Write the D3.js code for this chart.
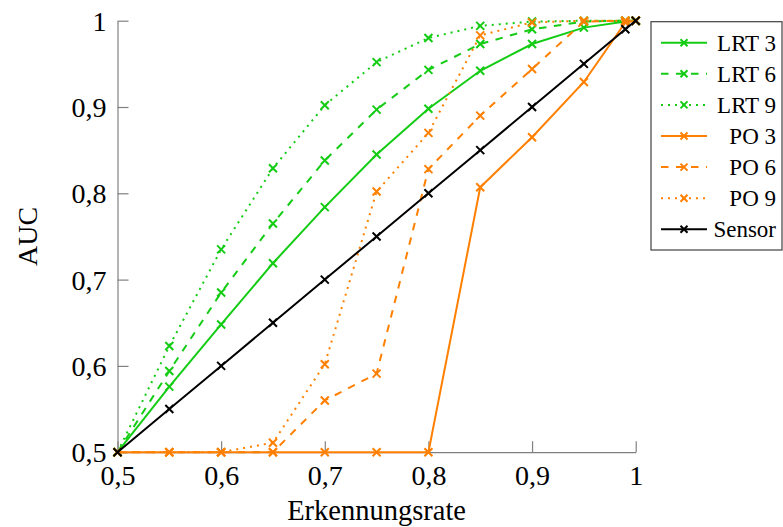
<!DOCTYPE html>
<html>
<head>
<meta charset="utf-8">
<script src="https://cdn.jsdelivr.net/npm/d3@7"></script>
<style>
  body { margin: 0; background: #fff; }
  text { font-family: "Liberation Serif", "Times New Roman", serif; fill: #000; }
</style>
</head>
<body>
<svg id="chart" width="783" height="527"></svg>
<script>
// x positions (Erkennungsrate)
var rates = [0.5, 0.55, 0.6, 0.65, 0.7, 0.75, 0.8, 0.85, 0.9, 0.95, 0.99, 1]

// AUC values
var lrt3   = [0.5, 0.576, 0.648, 0.719, 0.784, 0.845, 0.898, 0.942, 0.973, 0.992, 0.999, 1]
var lrt6   = [0.5, 0.594, 0.685, 0.765, 0.838, 0.897, 0.943, 0.973, 0.990, 0.999, 1, 1]
var lrt9   = [0.5, 0.623, 0.735, 0.829, 0.902, 0.952, 0.980, 0.994, 0.999, 1, 1, 1]
var po3    = [0.5, 0.5, 0.5, 0.5, 0.5, 0.5, 0.5, 0.807, 0.865, 0.929, 0.998, 1]
var po6    = [0.5, 0.5, 0.5, 0.5, 0.560, 0.591, 0.828, 0.890, 0.944, 0.999, 1, 1]
var po9    = [0.5, 0.5, 0.5, 0.511, 0.602, 0.802, 0.870, 0.983, 0.998, 1, 1, 1]
var sensor = [0.5, 0.55, 0.6, 0.65, 0.7, 0.75, 0.8, 0.85, 0.9, 0.95, 0.99, 1]

var seriesNames = ["LRT 3", "LRT 6", "LRT 9", "PO 3", "PO 6", "PO 9", "Sensor"]
var xTicks = [0.5, 0.6, 0.7, 0.8, 0.9, 1]
var yTicks = [0.5, 0.6, 0.7, 0.8, 0.9, 1]

var green = "#14cc14", orange = "#ff8000"
var series = [
    { name: seriesNames[0], values: lrt3,   color: green,  dash: null },
    { name: seriesNames[1], values: lrt6,   color: green,  dash: "7.5,7.5" },
    { name: seriesNames[2], values: lrt9,   color: green,  dash: "2,5" },
    { name: seriesNames[3], values: po3,    color: orange, dash: null },
    { name: seriesNames[4], values: po6,    color: orange, dash: "7.5,7.5" },
    { name: seriesNames[5], values: po9,    color: orange, dash: "2,5" },
    { name: seriesNames[6], values: sensor, color: "#000", dash: null }
]

var margin = { left: 117.5, top: 20.7, right: 147.3, bottom: 74.8 }
var svg = d3.select("#chart")
var width = 783 - margin.left - margin.right
var height = 527 - margin.top - margin.bottom

var x = d3.scaleLinear().domain([0.5, 1]).range([0, width])
var y = d3.scaleLinear().domain([0.5, 1]).range([height, 0])

var fmt = function(d) { return d === 1 ? "1" : d3.format(".1f")(d).replace(".", ",") }

var g = svg.append("g")
    .attr("transform", "translate(" + margin.left + "," + margin.top + ")")

// axes: ticks point inward, gray
var xAxis = g.append("g")
    .attr("transform", "translate(0," + height + ")")
    .call(d3.axisBottom(x).tickValues(xTicks).tickSize(-11).tickSizeOuter(0).tickFormat(fmt))
var yAxis = g.append("g")
    .call(d3.axisLeft(y).tickValues(yTicks).tickSize(-11).tickSizeOuter(0).tickFormat(fmt))

;[xAxis, yAxis].forEach(function(a) {
    a.select(".domain").attr("stroke", "#808080").attr("stroke-width", 1.2)
    a.selectAll(".tick line").attr("stroke", "#808080").attr("stroke-width", 1.2)
    a.selectAll(".tick text")
        .style("font-family", "'Liberation Serif', serif")
        .style("font-size", "28px")
        .attr("fill", "#000")
})
xAxis.selectAll(".tick text").attr("y", 13).attr("dy", "0.71em")
yAxis.selectAll(".tick text").attr("x", -11).attr("dy", "0.34em")

// axis labels
svg.append("text")
    .attr("x", margin.left + width / 2)
    .attr("y", 520)
    .attr("text-anchor", "middle")
    .style("font-size", "28.5px")
    .text("Erkennungsrate")

svg.append("text")
    .attr("transform", "translate(37," + (margin.top + height / 2) + ") rotate(-90)")
    .attr("text-anchor", "middle")
    .style("font-size", "28px")
    .text("AUC")

var line = d3.line()
    .x(function(d, i) { return x(rates[i]) })
    .y(function(d) { return y(d) })

function cross(sel, r) {
    return sel.append("path")
        .attr("d", "M" + (-r) + "," + (-r) + "L" + r + "," + r + "M" + (-r) + "," + r + "L" + r + "," + (-r))
}

series.forEach(function(s) {
    g.append("path")
        .datum(s.values)
        .attr("fill", "none")
        .attr("stroke", s.color)
        .attr("stroke-width", 2)
        .attr("stroke-dasharray", s.dash)
        .attr("d", line)

    g.append("g").selectAll("g")
        .data(s.values)
        .enter().append("g")
        .attr("transform", function(d, i) { return "translate(" + x(rates[i]) + "," + y(d) + ")" })
        .each(function() {
            cross(d3.select(this), 4)
                .attr("stroke", s.color)
                .attr("stroke-width", 2)
                .attr("fill", "none")
        })
})

// legend
var legend = svg.append("g").attr("transform", "translate(651,21.7)")
legend.append("rect")
    .attr("width", 131)
    .attr("height", 228.3)
    .attr("fill", "#fff")
    .attr("stroke", "#404040")
    .attr("stroke-width", 1.2)

var rowY = d3.scalePoint().domain(seriesNames).range([21, 207.6])

series.forEach(function(s) {
    var row = legend.append("g").attr("transform", "translate(0," + rowY(s.name) + ")")
    row.append("line")
        .attr("x1", 10).attr("x2", 56)
        .attr("stroke", s.color)
        .attr("stroke-width", 2)
        .attr("stroke-dasharray", s.dash)
    cross(row.append("g").attr("transform", "translate(33,0)"), 3.5)
        .attr("stroke", s.color)
        .attr("stroke-width", 2)
        .attr("fill", "none")
    row.append("text")
        .attr("x", 125)
        .attr("dy", "0.34em")
        .attr("text-anchor", "end")
        .style("font-size", "23px")
        .text(s.name)
})
</script>
</body>
</html>
